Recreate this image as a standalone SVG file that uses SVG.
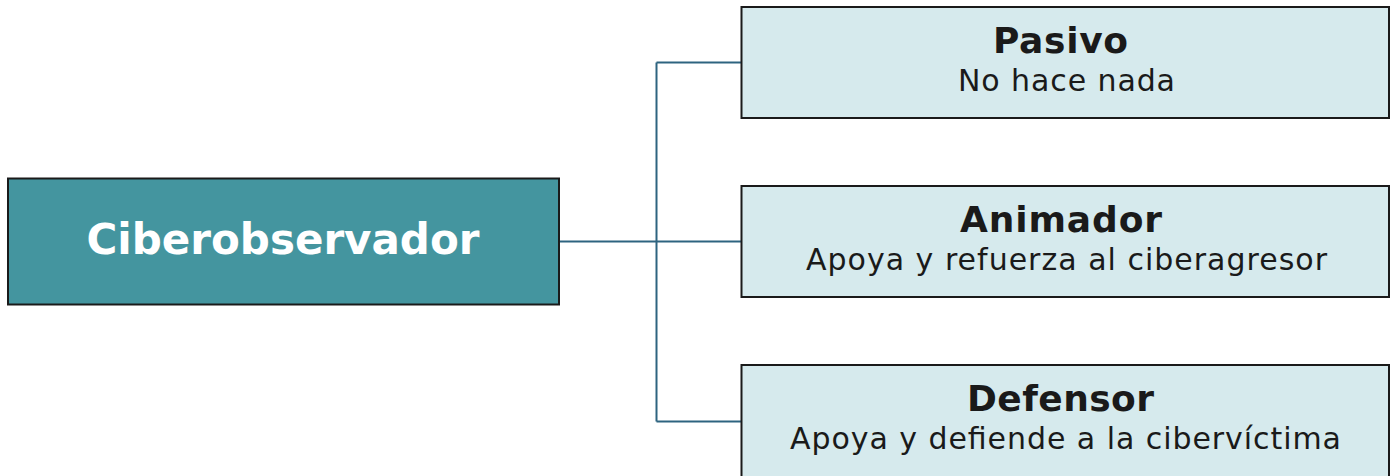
<svg xmlns="http://www.w3.org/2000/svg" width="1392" height="476" viewBox="0 0 1392 476">
<style>
.main{fill:#44959f;stroke:#1a1a1a;stroke-width:2}
.sub{fill:#d6eaed;stroke:#1a1a1a;stroke-width:2}
.t{font-family:"DejaVu Sans",Verdana,sans-serif;text-anchor:middle;fill:#1a1a1a}
.b{font-weight:bold;font-size:36px}
.r{font-size:30px}
.c{fill:none;stroke:#2e6480;stroke-width:2}
</style>
<rect width="1392" height="476" fill="#fff"/>
<g id="connectors">
<path class="c" d="M559 241.5H741M656.5 62.5V421.5M656.5 62.5H741M656.5 421.5H741"/>
</g>
<g id="ciberobservador">
<rect class="main" x="8" y="178.5" width="551" height="126"/>
<text class="t" x="283" y="254" font-size="42" font-weight="bold" style="fill:#fff">Ciberobservador</text>
</g>
<g id="pasivo">
<rect class="sub" x="741.5" y="7" width="647.5" height="111"/>
<text class="t b" x="1060.5" y="53" textLength="135" lengthAdjust="spacing">Pasivo</text>
<text class="t r" x="1066.5" y="91" textLength="217" lengthAdjust="spacing">No hace nada</text>
</g>
<g id="animador">
<rect class="sub" x="741.5" y="186" width="647.5" height="111"/>
<text class="t b" x="1061" y="232" textLength="202" lengthAdjust="spacing">Animador</text>
<text class="t r" x="1066.5" y="270" textLength="521" lengthAdjust="spacing">Apoya y refuerza al ciberagresor</text>
</g>
<g id="defensor">
<rect class="sub" x="741.5" y="365" width="647.5" height="120"/>
<text class="t b" x="1060.5" y="411" textLength="187" lengthAdjust="spacing">Defensor</text>
<text class="t r" x="1065.5" y="449" textLength="551" lengthAdjust="spacing">Apoya y defiende a la cibervíctima</text>
</g>
</svg>
